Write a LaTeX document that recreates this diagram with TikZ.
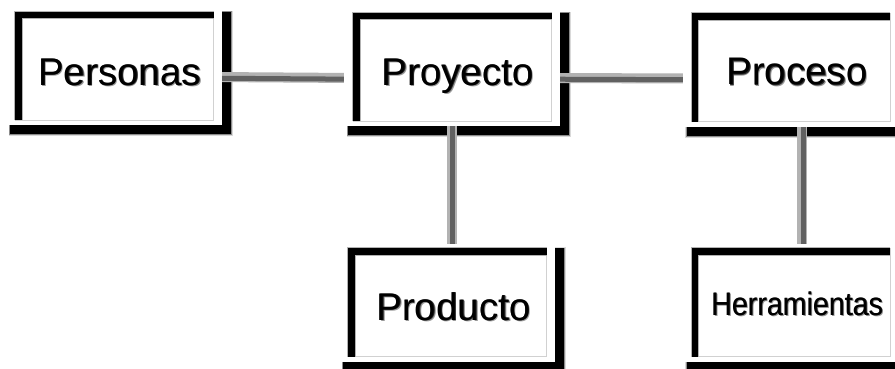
\documentclass[tikz,border=0pt]{standalone}
\usepackage{fontspec}
\setmainfont{Liberation Sans}
\usepackage{graphicx}
\usetikzlibrary{backgrounds,calc}

% text with a soft dark drop shadow behind it
\newcommand\shtext[1]{%
  \makebox[0pt][l]{\kern1.6pt\raisebox{-1.6pt}{\textcolor{black!40}{#1}}}%
  \makebox[0pt][l]{\kern0.8pt\raisebox{-0.8pt}{\textcolor{black!85}{#1}}}#1}

\tikzset{
  framebox/.style={minimum width=198pt, minimum height=108pt, inner sep=0pt,
    text depth=0pt, font=\fontsize{38.5}{42}\selectfont},
  barline/.style={line width=6.5pt, black, line join=miter},
  thinedge/.style={line width=0.8pt, black!18},
  connbase/.style={line width=10pt, black!30},
  conncore/.style={line width=5pt, black!62},
}

% drop shadow of one box, softened by a grey halo
\newcommand\boxdeco[1]{%
  \begin{scope}[on background layer]
    \fill[black!15] ([shift={(-6.5,1)}]#1.north west) rectangle ([shift={(19,-16)}]#1.south east);
    \fill[black!45] ([shift={(-6,0.5)}]#1.north west) rectangle ([shift={(18,-15)}]#1.south east);
    \fill[black] ([shift={(-5,0)}]#1.north west) rectangle ([shift={(17,-14)}]#1.south east);
  \end{scope}
}
% white face and sunken frame of one box
\newcommand\boxface[1]{%
  \begin{scope}[on background layer]
    \fill[white] ([shift={(-9,4)}]#1.north west) rectangle ([shift={(8.5,-5)}]#1.south east);
    \draw[thinedge] (#1.north east) -- (#1.south east) -- (#1.south west);
    \draw[black!30, line width=8.5pt] ([xshift=3.25pt]#1.south west) -- ([shift={(3.25,-3.25)}]#1.north west) -- ([yshift=-3.25pt]#1.north east);
    \draw[barline] ([xshift=3.25pt]#1.south west) -- ([shift={(3.25,-3.25)}]#1.north west) -- ([yshift=-3.25pt]#1.north east);
  \end{scope}
}

\begin{document}
\begin{tikzpicture}[x=1pt,y=1pt]
  \useasboundingbox (0,0) rectangle (895,368);

  \node[framebox, text height=38pt] (personas) at (114.5,302) {\hspace*{10pt}\shtext{Personas}};
  \node[framebox, text height=36pt] (proyecto) at (452.5,301) {\hspace*{10pt}\shtext{Proyecto}};
  \node[framebox, text height=34pt] (proceso) at (791,300.5) {\hspace*{12pt}\shtext{Proceso}};
  \node[framebox, text height=35pt] (producto) at (447.5,65.5) {\hspace*{12pt}\shtext{Producto}};
  \node[framebox, text height=25pt] (herramientas) at (791,65.5)
    {\hspace*{12pt}\scalebox{0.88}[1]{\fontsize{32.5}{36}\selectfont\shtext{Herramientas}}};

  % page background
  \begin{scope}[on background layer]
    \fill[white] (0,0) rectangle (895,368);
  \end{scope}

  % drop shadows
  \boxdeco{personas}
  \boxdeco{proyecto}
  \boxdeco{proceso}
  \boxdeco{producto}
  \boxdeco{herramientas}

  % connectors
  \begin{scope}[on background layer]
    \foreach \a/\b in {personas/proyecto, proyecto/proceso} {
      \draw[connbase] ([yshift=-11pt]\a.east) -- ([yshift=-11pt]\b.west);
      \draw[conncore, transform canvas={shift={(0,-1.2)}}] ([yshift=-11pt]\a.east) -- ([yshift=-11pt]\b.west);
    }
    \draw[connbase] ([xshift=-1pt]proyecto.south) -- ([xshift=-1pt]proyecto.south |- producto.north);
    \draw[conncore, transform canvas={shift={(1.2,0)}}] ([xshift=-1pt]proyecto.south) -- ([xshift=-1pt]proyecto.south |- producto.north);
    \draw[connbase] ([xshift=11pt]proceso.south) -- ([xshift=11pt]herramientas.north);
    \draw[conncore, transform canvas={shift={(1.2,0)}}] ([xshift=11pt]proceso.south) -- ([xshift=11pt]herramientas.north);
  \end{scope}

  % white faces and sunken frames
  \boxface{personas}
  \boxface{proyecto}
  \boxface{proceso}
  \boxface{producto}
  \boxface{herramientas}
\end{tikzpicture}
\end{document}
